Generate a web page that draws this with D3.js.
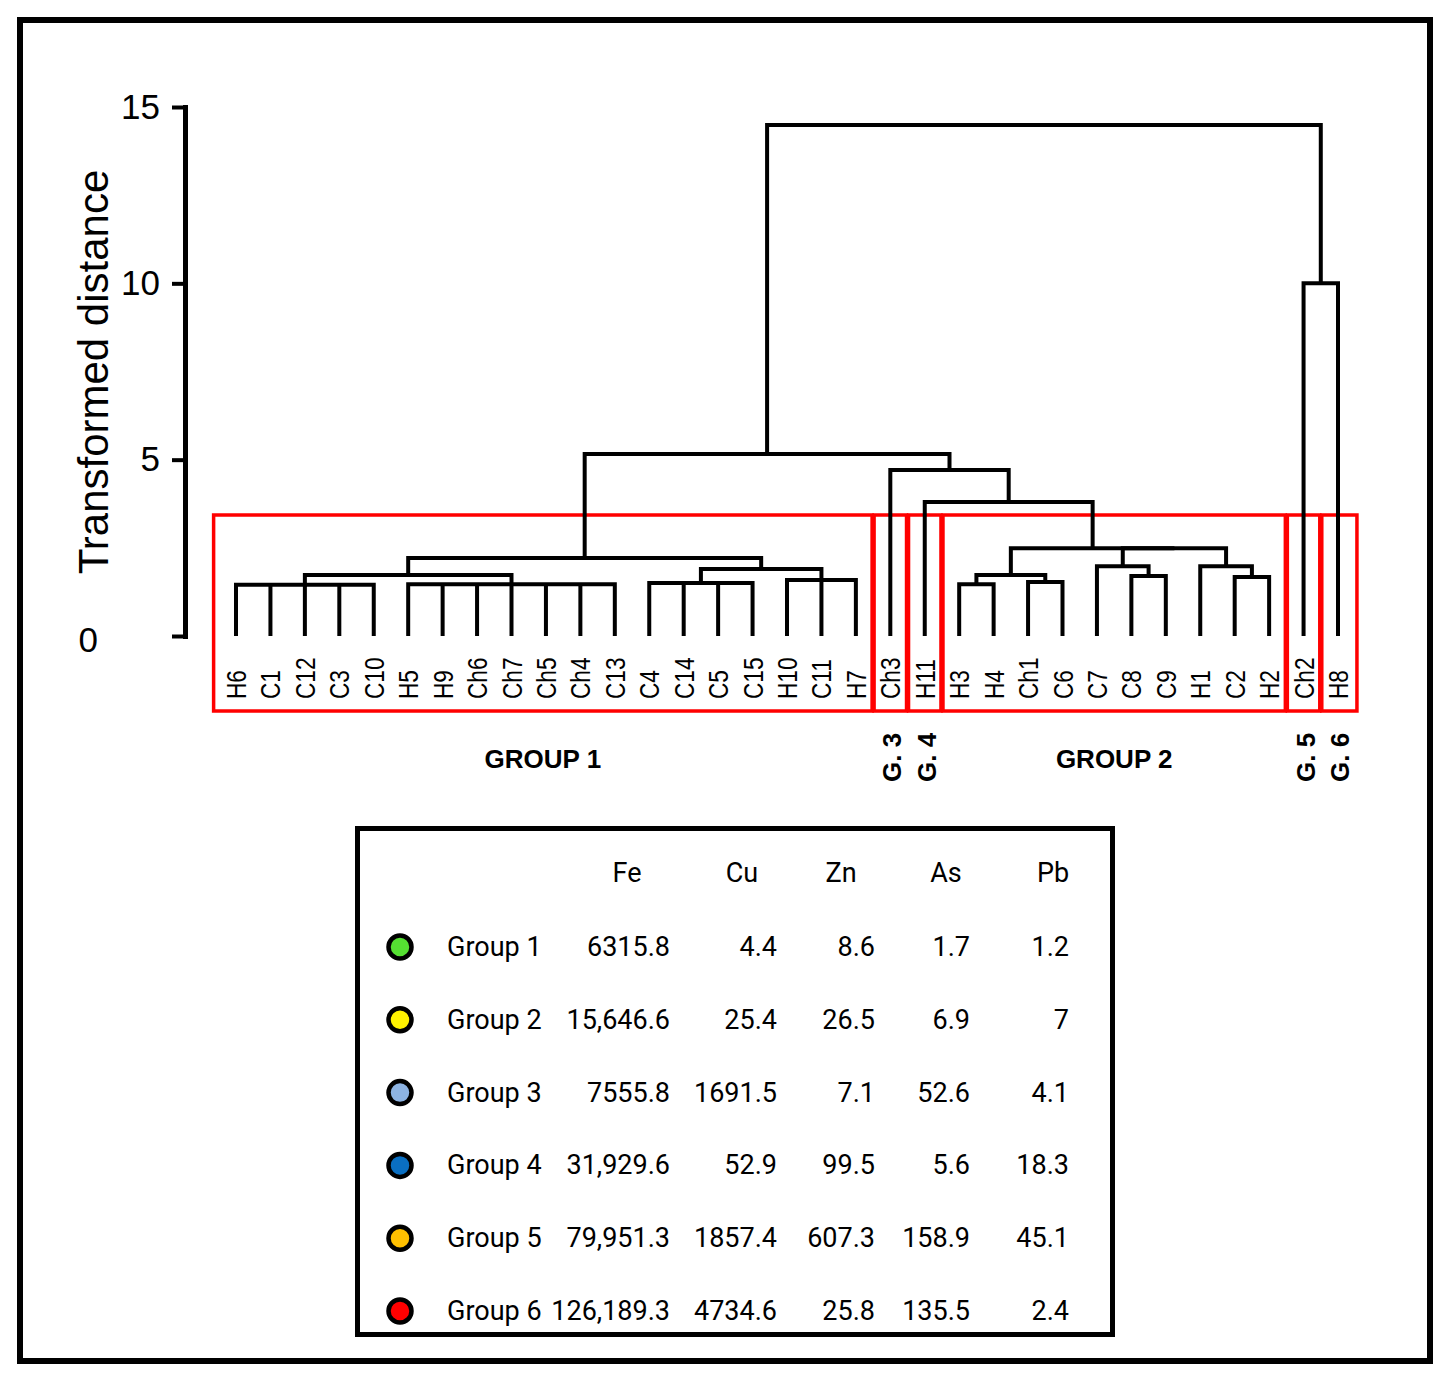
<!DOCTYPE html>
<html><head><meta charset="utf-8">
<script src="https://cdn.jsdelivr.net/npm/d3@7"></script>
<style>html,body{margin:0;padding:0;background:#fff}</style>
</head><body><svg id="chart" width="1449" height="1381"></svg>
<script>
// ---------- DATA ----------
const leaves = ["H6","C1","C12","C3","C10","H5","H9","Ch6","Ch7","Ch5","Ch4","C13","C4","C14","C5","C15","H10","C11","H7","Ch3","H11","H3","H4","Ch1","C6","C7","C8","C9","H1","C2","H2","Ch2","H8"];
// merges: [node id, children, merge height (transformed distance)]
const merges = [
  ["A",   ["H6","C1","C12","C3","C10"], 1.45],
  ["B",   ["H5","H9","Ch6","Ch7","Ch5","Ch4","C13"], 1.47],
  ["AB",  ["A","B"], 1.73],
  ["C",   ["C4","C14","C5","C15"], 1.50],
  ["D",   ["H10","C11","H7"], 1.59],
  ["CD",  ["C","D"], 1.90],
  ["G1",  ["AB","CD"], 2.21],
  ["E1",  ["H3","H4"], 1.47],
  ["E2",  ["Ch1","C6"], 1.53],
  ["E",   ["E1","E2"], 1.73],
  ["F1",  ["C8","C9"], 1.70],
  ["F",   ["C7","F1"], 1.98],
  ["K1",  ["C2","H2"], 1.67],
  ["K",   ["H1","K1"], 1.98],
  ["FK",  ["F","K"], 2.49],
  ["G2",  ["E","FK"], 2.49],
  ["N4",  ["H11","G2"], 3.80],
  ["N3",  ["Ch3","N4"], 4.71],
  ["L",   ["G1","N3"], 5.16],
  ["R",   ["Ch2","H8"], 10.0],
  ["ROOT",["L","R"], 14.49]
];
const tickValues = [0, 5, 10, 15];
const axisTitle = "Transformed distance";

const groupLabels    = ["GROUP 1","G. 3","G. 4","GROUP 2","G. 5","G. 6"];
const groupFirstLeaf = ["H6","Ch3","H11","H3","Ch2","H8"];
const groupLastLeaf  = ["H7","Ch3","H11","H2","Ch2","H8"];

const elements    = ["Fe","Cu","Zn","As","Pb"];
const tableGroups = ["Group 1","Group 2","Group 3","Group 4","Group 5","Group 6"];
const groupColors = ["#55e032","#fff200","#8db3e2","#0a6fc2","#ffc000","#ff0000"];
const feValues = [6315.8, 15646.6, 7555.8, 31929.6, 79951.3, 126189.3];
const cuValues = [4.4, 25.4, 1691.5, 52.9, 1857.4, 4734.6];
const znValues = [8.6, 26.5, 7.1, 99.5, 607.3, 25.8];
const asValues = [1.7, 6.9, 52.6, 5.6, 158.9, 135.5];
const pbValues = [1.2, 7, 4.1, 18.3, 45.1, 2.4];

// ---------- LAYOUT ----------
const svg = d3.select("#chart");
svg.append("rect").attr("x",20).attr("y",20).attr("width",1410).attr("height",1341)
  .attr("fill","none").attr("stroke","#000").attr("stroke-width",6);

const x = d3.scalePoint().domain(leaves).range([236, 1338]);
const y = d3.scaleLinear().domain([0, 15]).range([636, 107]);
const step = x.step();

// red group boxes
const boxTop = 515, boxBottom = 711;
const gBoxes = svg.append("g");
groupLabels.forEach((lab, i) => {
  const i0 = leaves.indexOf(groupFirstLeaf[i]), i1 = leaves.indexOf(groupLastLeaf[i]);
  const left = i0 === 0 ? x(leaves[i0]) - step * 0.65 : (x(leaves[i0]) + x(leaves[i0 - 1])) / 2 + 1;
  const right = i1 === leaves.length - 1 ? x(leaves[i1]) + step * 0.55 : (x(leaves[i1]) + x(leaves[i1 + 1])) / 2 - 1;
  gBoxes.append("rect").attr("x", left).attr("y", boxTop).attr("width", right - left).attr("height", boxBottom - boxTop)
    .attr("fill","none").attr("stroke","#ff0000").attr("stroke-width",3.5);
  if (i1 > i0) {
    svg.append("text").attr("x", (left + right) / 2).attr("y", 768).attr("text-anchor","middle")
      .attr("font-family","Liberation Sans, Arial, sans-serif").attr("font-weight","bold").attr("font-size",26)
      .text(lab);
  } else {
    svg.append("text").attr("transform", `translate(${x(leaves[i0]) + 11},782) rotate(-90)`)
      .attr("font-family","Liberation Sans, Arial, sans-serif").attr("font-weight","bold").attr("font-size",26)
      .text(lab);
  }
});

// dendrogram
const info = {};
leaves.forEach(l => info[l] = { x: x(l), h: 0 });
merges.forEach(([id, ch, h]) => {
  const xs = ch.map(c => info[c].x);
  info[id] = { x: (d3.min(xs) + d3.max(xs)) / 2, h: h };
});
const gTree = svg.append("g").attr("fill","none").attr("stroke","#000").attr("stroke-width",4)
  .attr("stroke-linejoin","miter");
merges.forEach(([id, ch, h]) => {
  const kids = ch.map(c => info[c]).sort((a, b) => a.x - b.x);
  const first = kids[0], last = kids[kids.length - 1];
  const p = d3.path();
  p.moveTo(first.x, y(first.h)); p.lineTo(first.x, y(h)); p.lineTo(last.x, y(h)); p.lineTo(last.x, y(last.h));
  kids.slice(1, -1).forEach(k => { p.moveTo(k.x, y(k.h)); p.lineTo(k.x, y(h)); });
  gTree.append("path").attr("d", p.toString());
});

// leaf labels
svg.append("g").selectAll("text").data(leaves).join("text")
  .attr("transform", d => `translate(${x(d) + 10},699) rotate(-90) scale(0.84,1)`)
  .attr("font-family","Liberation Sans, Arial, sans-serif").attr("font-size",27)
  .text(d => d);

// axis
const axis = d3.axisLeft(y).tickValues(tickValues).tickSize(13).tickSizeOuter(0).tickPadding(12)
  .tickFormat(d3.format("d"));
const gA = svg.append("g").attr("transform","translate(185,0)").call(axis);
gA.select(".domain").attr("stroke","#000").attr("stroke-width",5).attr("stroke-linecap","square");
gA.selectAll(".tick line").attr("stroke","#000").attr("stroke-width",4);
gA.selectAll(".tick text").attr("font-family","Liberation Sans, Arial, sans-serif").attr("font-size",35).attr("fill","#000");
gA.selectAll(".tick text").filter(d => d === 0).attr("x", -87).attr("dy","0.45em");
svg.append("text").attr("transform","translate(108,372) rotate(-90)").attr("text-anchor","middle")
  .attr("font-family","Liberation Sans, Arial, sans-serif").attr("font-size",42).text(axisTitle);

// table
svg.append("rect").attr("x",357.5).attr("y",828.5).attr("width",755).attr("height",506)
  .attr("fill","none").attr("stroke","#000").attr("stroke-width",5);
const tf = "Roboto, sans-serif";
const headerX = [627, 742, 841, 946, 1053];
const valueRight = [670, 777, 875, 970, 1069];
const rowY = d3.scalePoint().domain(tableGroups).range([946, 1310]);
const columns = [feValues, cuValues, znValues, asValues, pbValues];
const fmt = v => v >= 10000 ? d3.format(",.1f")(v) : (Number.isInteger(v) ? String(v) : d3.format(".1f")(v));
elements.forEach((e, j) => {
  svg.append("text").attr("x", headerX[j]).attr("y", 882).attr("text-anchor","middle")
    .attr("font-family", tf).attr("font-size",27).text(e);
});
tableGroups.forEach((g, i) => {
  const cy = rowY(g);
  svg.append("circle").attr("cx",400).attr("cy",cy + 1).attr("r",11.5)
    .attr("fill",groupColors[i]).attr("stroke","#000").attr("stroke-width",4.5);
  svg.append("text").attr("x",447).attr("y",cy + 10).attr("font-family",tf).attr("font-size",27).text(g);
  columns.forEach((col, j) => {
    svg.append("text").attr("x", valueRight[j]).attr("y", cy + 10).attr("text-anchor","end")
      .attr("font-family", tf).attr("font-size",27).text(fmt(col[i]));
  });
});
</script></body></html>
